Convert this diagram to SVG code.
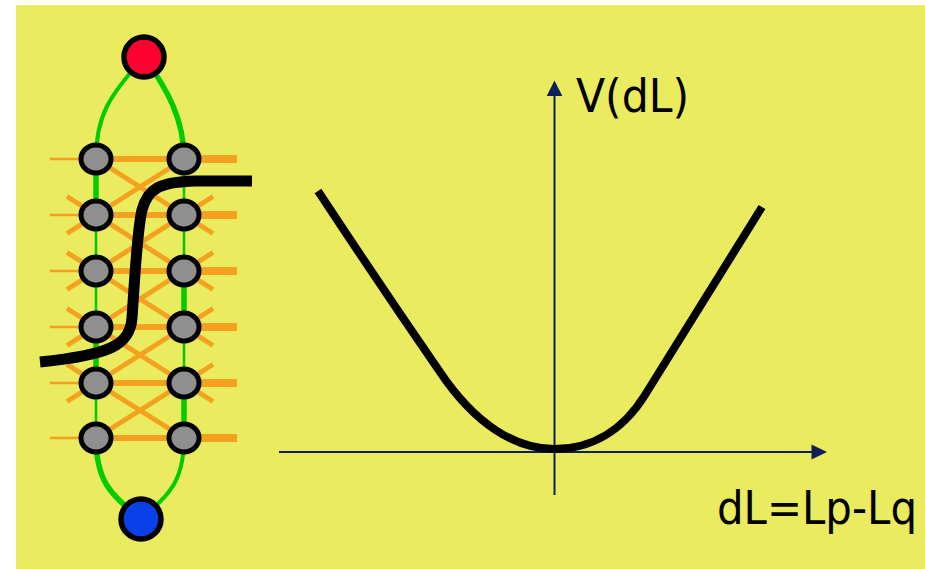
<svg xmlns="http://www.w3.org/2000/svg" width="925" height="569" viewBox="0 0 925 569">
<style>
.bg{fill:#EAEB5F}
.gthick{fill:none;stroke:#00CC00;stroke-width:5.5}
.gthin{fill:none;stroke:#00CC00;stroke-width:2.5}
.o1{stroke:#F4A11F;stroke-width:2.5}
.o2{stroke:#F4A11F;stroke-width:6}
.o3{stroke:#F4A11F;stroke-width:8}
.od{stroke:#F4A11F;stroke-width:5}
.gray{fill:#8F8F8F;stroke:#000;stroke-width:5}
.big{stroke:#000;stroke-width:5.5}
.axis{stroke:#0E1F5C;stroke-width:2}
.ah{fill:#0E1F5C}
.blk{fill:none;stroke:#000;stroke-width:11}
.lbl{font-family:"DejaVu Sans Condensed","DejaVu Sans",sans-serif;font-size:46px;fill:#000}
</style>
<rect class="bg" x="16" y="5" width="909" height="564"/>
<g id="connectors">
  <g>
    <line class="o1" x1="50" y1="159" x2="96" y2="159"/><line class="o2" x1="96" y1="159" x2="184" y2="159"/><line class="o3" x1="184" y1="159" x2="237" y2="159"/>
    <line class="o1" x1="50" y1="215" x2="96" y2="215"/><line class="o2" x1="96" y1="215" x2="184" y2="215"/><line class="o3" x1="184" y1="215" x2="237" y2="215"/>
    <line class="o1" x1="50" y1="271" x2="96" y2="271"/><line class="o2" x1="96" y1="271" x2="184" y2="271"/><line class="o3" x1="184" y1="271" x2="237" y2="271"/>
    <line class="o1" x1="50" y1="327" x2="96" y2="327"/><line class="o2" x1="96" y1="327" x2="184" y2="327"/><line class="o3" x1="184" y1="327" x2="237" y2="327"/>
    <line class="o1" x1="50" y1="383" x2="96" y2="383"/><line class="o2" x1="96" y1="383" x2="184" y2="383"/><line class="o3" x1="184" y1="383" x2="237" y2="383"/>
    <line class="o1" x1="50" y1="438" x2="96" y2="438"/><line class="o2" x1="96" y1="438" x2="184" y2="438"/><line class="o3" x1="184" y1="438" x2="237" y2="438"/>
  </g>
  <g>
    <line class="od" x1="96" y1="159" x2="213" y2="233.5"/><line class="od" x1="184" y1="159" x2="67" y2="233.5"/>
    <line class="od" x1="67" y1="196.5" x2="213" y2="289.5"/><line class="od" x1="213" y1="196.5" x2="67" y2="289.5"/>
    <line class="od" x1="67" y1="252.5" x2="213" y2="345.5"/><line class="od" x1="213" y1="252.5" x2="67" y2="345.5"/>
    <line class="od" x1="67" y1="308.5" x2="213" y2="401.5"/><line class="od" x1="213" y1="308.5" x2="67" y2="401.5"/>
    <line class="od" x1="67" y1="364.5" x2="184" y2="438"/><line class="od" x1="213" y1="364.5" x2="96" y2="438"/>
  </g>
  <path class="gthin" d="M144,57 C110,95 96,115 96,159" style="stroke-width:4"/>
  <path class="gthick" d="M144,57 C168,90 184,120 184,159"/>
  <line class="gthick" x1="96" y1="159" x2="96" y2="215"/>
  <line class="gthin" x1="96" y1="215" x2="96" y2="271"/>
  <line class="gthin" x1="96" y1="271" x2="96" y2="327"/>
  <line class="gthick" x1="96" y1="327" x2="96" y2="383"/>
  <line class="gthin" x1="96" y1="383" x2="96" y2="438"/>
  <line class="gthin" x1="184" y1="159" x2="184" y2="215"/>
  <line class="gthin" x1="184" y1="215" x2="184" y2="271"/>
  <line class="gthick" x1="184" y1="271" x2="184" y2="327"/>
  <line class="gthin" x1="184" y1="327" x2="184" y2="383"/>
  <line class="gthick" x1="184" y1="383" x2="184" y2="438"/>
  <path class="gthick" d="M96,438 C96,480 110,495 141,519"/>
  <path class="gthin" d="M184,438 C184,480 170,495 141,519" style="stroke-width:4"/>
</g>
<g id="nodes">
  <g id="n-top"><circle class="big" cx="144" cy="57" r="20" fill="#FF0030"/></g>
  <g id="n-bottom"><circle class="big" cx="141" cy="519" r="20" fill="#0A40E8"/></g>
  <g id="n-l1"><ellipse class="gray" cx="96" cy="159" rx="15" ry="14"/></g>
  <g id="n-r1"><ellipse class="gray" cx="184" cy="159" rx="15" ry="14"/></g>
  <g id="n-l2"><ellipse class="gray" cx="96" cy="215" rx="15" ry="14"/></g>
  <g id="n-r2"><ellipse class="gray" cx="184" cy="215" rx="15" ry="14"/></g>
  <g id="n-l3"><ellipse class="gray" cx="96" cy="271" rx="15" ry="14"/></g>
  <g id="n-r3"><ellipse class="gray" cx="184" cy="271" rx="15" ry="14"/></g>
  <g id="n-l4"><ellipse class="gray" cx="96" cy="327" rx="15" ry="14"/></g>
  <g id="n-r4"><ellipse class="gray" cx="184" cy="327" rx="15" ry="14"/></g>
  <g id="n-l5"><ellipse class="gray" cx="96" cy="383" rx="15" ry="14"/></g>
  <g id="n-r5"><ellipse class="gray" cx="184" cy="383" rx="15" ry="14"/></g>
  <g id="n-l6"><ellipse class="gray" cx="96" cy="438" rx="15" ry="14"/></g>
  <g id="n-r6"><ellipse class="gray" cx="184" cy="438" rx="15" ry="14"/></g>
</g>
<g id="cut">
  <path class="blk" d="M252,181 L195,181 C160,182 148,188 142,210 C137,230 134,290 132,318 C130,345 110,355 40,362"/>
</g>
<g id="plot">
  <line class="axis" x1="279" y1="452" x2="814" y2="452"/>
  <polygon class="ah" points="827,452 811.5,444.4 811.5,459.6"/>
  <line class="axis" x1="554.5" y1="495" x2="554.5" y2="94"/>
  <polygon class="ah" points="554.5,80.5 546.7,96 562.3,96"/>
  <path class="blk" style="stroke-width:8" d="M318,191 Q380,285 440,372 C475,424 515,449 554,449 C590,449 622,432 645,395 L762,207"/>
  <text class="lbl" x="576" y="112" textLength="113" lengthAdjust="spacingAndGlyphs">V(dL)</text>
  <text class="lbl" x="717" y="524" textLength="200" lengthAdjust="spacingAndGlyphs">dL=Lp-Lq</text>
</g>
</svg>
